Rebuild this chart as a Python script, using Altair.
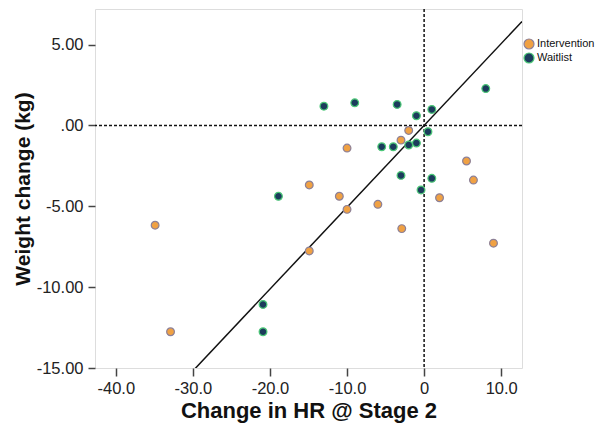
import altair as alt
import pandas as pd

# Intervention group (orange)
int_x = [-34.9, -32.9, -14.9, -11.0, -10.0, -6.0, -14.9, -10.0, -2.0, -3.0, 5.5, 6.4, 2.0, -2.9, 9.0]
int_y = [-6.17, -12.76, -3.68, -4.38, -5.19, -4.88, -7.76, -1.40, -0.31, -0.91, -2.20, -3.38, -4.47, -6.38, -7.28]
# Waitlist group (navy)
wait_x = [-13.0, -9.0, -3.5, -1.0, 1.0, 8.0, 0.5, -5.5, -4.0, -2.0, -1.0, -3.0, 1.0, -0.4, -18.9, -20.9, -20.9]
wait_y = [1.19, 1.40, 1.30, 0.60, 0.99, 2.28, -0.39, -1.32, -1.32, -1.21, -1.09, -3.09, -3.27, -3.99, -4.38, -11.07, -12.76]

groups = ["Intervention", "Waitlist"]
fills = ["#F0A143", "#1C3C5C"]
strokes = ["#8C8098", "#4CC878"]

x_domain = [-42.7, 12.7]
y_domain = [-15.0, 7.2]
x_ticks = [-40, -30, -20, -10, 0, 10]
y_ticks = [5, 0, -5, -10, -15]

fit_slope = 0.506
fit_intercept = 0.0

df = pd.DataFrame({
    "x": int_x + wait_x,
    "y": int_y + wait_y,
    "group": [groups[0]] * len(int_x) + [groups[1]] * len(wait_x),
})

fit_df = pd.DataFrame({"x": x_domain})
fit_df["y"] = fit_slope * fit_df["x"] + fit_intercept

font = "Liberation Sans"

xscale = alt.Scale(domain=x_domain, nice=False, zero=False)
yscale = alt.Scale(domain=y_domain, nice=False, zero=False)

xaxis = alt.Axis(
    values=x_ticks, title="Change in HR @ Stage 2",
    labelExpr="datum.value == 0 ? '0' : replace(format(datum.value, '.1f'), '\u2212', '-')",
    grid=False, domain=False, tickSize=8, tickColor="#444", tickWidth=1.5,
    labelFontSize=16.5, labelColor="#222", labelPadding=4, labelFont=font,
    titleFont=font, titleFontSize=22, titleFontWeight="bold", titleColor="#111",
    titlePadding=4,
)
yaxis = alt.Axis(
    values=y_ticks, title="Weight change (kg)",
    labelExpr="datum.value == 0 ? '.00' : replace(format(datum.value, '.2f'), '\u2212', '-')",
    grid=False, domain=False, tickSize=7, tickColor="#444", tickWidth=1.5,
    labelFontSize=16.5, labelColor="#222", labelPadding=5, labelFont=font,
    titleFont=font, titleFontSize=21, titleFontWeight="bold", titleColor="#111",
    titlePadding=3,
)

legend = alt.Legend(title=None, orient="none", legendX=428, legendY=29,
                    labelFont=font, labelFontSize=11, labelColor="#111",
                    symbolSize=100, symbolStrokeWidth=1.2, rowPadding=-3,
                    labelOffset=2, symbolType="circle", padding=0, labelLimit=200)

points = alt.Chart(df).mark_point(filled=True, size=60, strokeWidth=1.2, opacity=1).encode(
    x=alt.X("x:Q", scale=xscale, axis=xaxis),
    y=alt.Y("y:Q", scale=yscale, axis=yaxis),
    fill=alt.Fill("group:N", scale=alt.Scale(domain=groups, range=fills), legend=legend),
    stroke=alt.Stroke("group:N", scale=alt.Scale(domain=groups, range=strokes), legend=legend),
)

fit = alt.Chart(fit_df).mark_line(color="#111", strokeWidth=1.5, clip=True).encode(
    x=alt.X("x:Q", scale=xscale),
    y=alt.Y("y:Q", scale=yscale),
)

zero = pd.DataFrame({"v": [0]})
vline = alt.Chart(zero).mark_rule(color="#111", strokeDash=[3, 2], strokeWidth=1.5).encode(
    x=alt.X("v:Q", scale=xscale))
hline = alt.Chart(zero).mark_rule(color="#111", strokeDash=[3, 2], strokeWidth=1.5).encode(
    y=alt.Y("v:Q", scale=yscale))

chart = alt.layer(vline, hline, fit, points).properties(
    width=427, height=359,
    autosize=alt.AutoSizeParams(type="none"),
    padding={"left": 87, "top": 1, "right": 74, "bottom": 60},
).configure_view(fill="#F0F0F0", stroke="#222", strokeWidth=1.2).configure(background="white")

chart.save("out.html", embed_options={"renderer": "svg", "actions": False})
